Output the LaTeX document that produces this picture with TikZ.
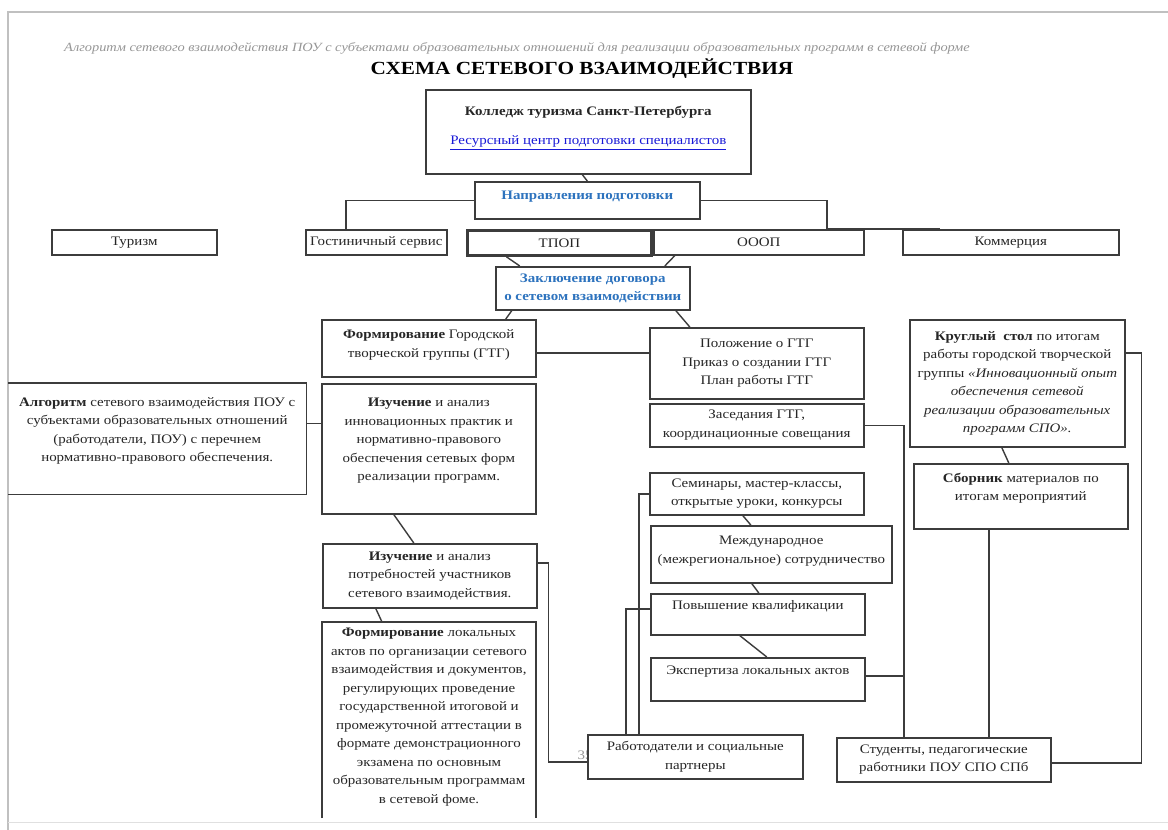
\documentclass[tikz,border=0pt]{standalone}
\usepackage{fontspec}
\setmainfont{Liberation Serif}[FakeStretch=1.15]
\usetikzlibrary{positioning,calc}
\definecolor{frame}   {RGB}{ 60, 60, 60}
\definecolor{headblue}{RGB}{ 45,115,190}
\definecolor{linkblue}{RGB}{ 25, 25,215}
\definecolor{pagegray}{RGB}{150,150,150}
\newcommand\boxfont{\fontsize{13}{18.5}\selectfont}
\newcommand\lnk[1]{\textcolor{linkblue}{\underline{#1}}}

\begin{document}
\begin{tikzpicture}[x=1pt,y=-1pt,
  font=\boxfont,
  text=black!85,
  block/.style={below right,draw=frame,line width=1.6pt,fill=white,inner sep=2pt,align=center},
  bare/.style={below right,inner sep=2pt,align=center},
  thickblock/.style={block,line width=2.8pt},
  headtext/.style={text=headblue,font=\boxfont\bfseries},
  wire/.style={draw=frame,line width=1.4pt},
]

  \useasboundingbox (0,0) rectangle (1168,830);
  \fill[white] (0,0) rectangle (1168,830);

  % Page edge
  \draw[pagegray!60,line width=2.5pt] (8,830) -- (8,12) -- (1168,12);
  \draw[black!12] (8,822) -- (1168,822);

  % Headings
  \node[text=pagegray,font=\fontsize{12.5}{14}\selectfont\itshape] (caption) at (517,48)
        {Алгоритм сетевого взаимодействия ПОУ с субъектами образовательных отношений для реализации образовательных программ в сетевой форме};
  \node[text=black,font=\fontsize{18.5}{20}\selectfont\bfseries] (title) at (582,69) {СХЕМА СЕТЕВОГО ВЗАИМОДЕЙСТВИЯ};

  \node[block,minimum width=325pt,minimum height=84pt] (college) at (425,89)
        {\textbf{Колледж туризма Санкт-Петербурга}\\[11pt]\lnk{Ресурсный центр подготовки специалистов}\\[-6pt]\mbox{}};

  \node[block,headtext,minimum width=225pt,minimum height=37pt] (directions) at (474,181)
        {Направления подготовки\\[-8pt]\mbox{}};

  \node[block,minimum width=165pt,minimum height=25pt] (tourism) at (51,229) {Туризм};
  \node[block,minimum width=141pt,minimum height=25pt] (hotel) at (305,229) {Гостиничный сервис};
  \node[thickblock,minimum width=184pt,minimum height=25pt] (tpop) at (466,229) {ТПОП};
  \node[block,minimum width=210pt,minimum height=25pt] (ooop) at (653,229) {ОООП};
  \node[block,minimum width=216pt,minimum height=25pt] (commerce) at (902,229) {Коммерция};

  \node[block,headtext,minimum width=194pt,minimum height=43pt] (contract) at (495,266)
        {Заключение договора\\о сетевом взаимодействии};

  \node[block,minimum width=214pt,minimum height=57pt] (formgroup) at (321,319)
        {\textbf{Формирование} Городской\\творческой группы (ГТГ)\\[-9pt]\mbox{}};

  \node[block,minimum width=214pt,minimum height=71pt] (regulations) at (649,327)
        {Положение о ГТГ\\Приказ о создании ГТГ\\План работы ГТГ};

  \node[bare,minimum width=298pt,minimum height=111pt] (algorithm) at (8,383)
        {\textbf{Алгоритм} сетевого взаимодействия ПОУ с\\субъектами образовательных отношений\\(работодатели, ПОУ) с перечнем\\нормативно-правового обеспечения.\\\mbox{}};
  \draw[wire,line width=1.6pt] (algorithm.north west) -- (algorithm.north east) -- (algorithm.south east) -- (algorithm.south west);

  \node[block,minimum width=214pt,minimum height=130pt] (study) at (321,383)
        {\textbf{Изучение} и анализ\\инновационных практик и\\нормативно-правового\\обеспечения сетевых форм\\реализации программ.\\\mbox{}};

  \node[block,minimum width=214pt,minimum height=43pt] (meetings) at (649,403)
        {Заседания ГТГ,\\координационные совещания};

  \node[block,minimum width=215pt,minimum height=127pt] (roundtable) at (909,319)
        {\textbf{Круглый\ \ стол} по итогам\\работы городской творческой\\группы \textit{«Инновационный опыт}\\\textit{обеспечения сетевой}\\\textit{реализации образовательных}\\\textit{программ СПО».}};

  \node[block,minimum width=214pt,minimum height=42pt] (seminars) at (649,472)
        {Семинары, мастер-классы,\\открытые уроки, конкурсы};

  \node[block,minimum width=214pt,minimum height=65pt] (collection) at (913,463)
        {\textbf{Сборник} материалов по\\итогам мероприятий\\\mbox{}};

  \node[block,minimum width=241pt,minimum height=57pt] (intl) at (650,525)
        {Международное\\(межрегиональное) сотрудничество\\[-9pt]\mbox{}};

  \node[block,minimum width=214pt,minimum height=64pt] (needs) at (322,543)
        {\textbf{Изучение} и анализ\\потребностей участников\\сетевого взаимодействия.};

  \node[block,minimum width=214pt,minimum height=41pt] (training) at (650,593)
        {Повышение квалификации\\\mbox{}};

  \node[bare,anchor=north,inner ysep=6pt,minimum width=214pt] (localacts) at (429,622)
        {\textbf{Формирование} локальных\\актов по организации сетевого\\взаимодействия и документов,\\регулирующих проведение\\государственной итоговой и\\промежуточной аттестации в\\формате демонстрационного\\экзамена по основным\\образовательным программам\\в сетевой фоме.};
  \draw[wire,line width=1.6pt] (322,818) -- (322,622) -- (536,622) -- (536,818);

  \node[block,minimum width=214pt,minimum height=43pt] (expertise) at (650,657)
        {Экспертиза локальных актов\\\mbox{}};

  \node[text=pagegray] (pagenum) at (585,755) {35};
  \node[block,minimum width=215pt,minimum height=44pt] (employers) at (587,734)
        {Работодатели и социальные\\партнеры};

  \node[block,minimum width=214pt,minimum height=44pt] (students) at (836,737)
        {Студенты, педагогические\\работники ПОУ СПО СПб};

  % Connectors
  \draw[wire] ([xshift=-6pt]college.south) -- (directions.north);
  \draw[wire] (directions.west) -| ([xshift=-30.5pt]hotel.north);
  \draw[wire] (directions.east) -| ([xshift=68pt]ooop.north) -- ([xshift=38pt]commerce.north west);

  \draw[wire] ([xshift=-53pt]tpop.south) -- ([xshift=-73pt]contract.north);
  \draw[wire] ([xshift=-84pt]ooop.south) -- ([xshift=72pt]contract.north);
  \draw[wire] ([xshift=-81pt]contract.south) -- ([xshift=77pt]formgroup.north);
  \draw[wire] ([xshift=83pt]contract.south) -- ([xshift=-67pt]regulations.north);
  \draw[wire] ([yshift=-4.5pt]formgroup.east) -- ([yshift=-4.5pt]formgroup.east -| regulations.west);

  \draw[wire] ([yshift=15.5pt]algorithm.east) -- ([yshift=15.5pt]algorithm.east -| study.west);
  \draw[wire] ([xshift=-35pt]study.south) -- ([xshift=-16pt]needs.north);
  \draw[wire] ([xshift=-54pt]needs.south) -- ([xshift=-47pt]localacts.north);
  \draw[wire] ([yshift=13pt]needs.east) -- ++(11,0) |- ([yshift=-5pt]employers.west);

  \draw[wire] ([xshift=-14pt]seminars.south) -- ([xshift=-20.5pt]intl.north);
  \draw[wire] ([xshift=-19.5pt]intl.south) -- ([xshift=1pt]training.north);
  \draw[wire] ([xshift=-18pt]training.south) -- ([xshift=9pt]expertise.north);
  \draw[wire] (seminars.west) -| ([xshift=-56.5pt]employers.north);
  \draw[wire] ([yshift=5.5pt]training.west) -| ([xshift=-69.5pt]employers.north);

  \draw[wire] (meetings.east) -| ([xshift=-40pt]students.north);
  \draw[wire] ([yshift=3.5pt]expertise.east) -| ([xshift=-40pt]students.north);

  \draw[wire] ([xshift=-15.5pt]roundtable.south) -- ([xshift=-12pt]collection.north);
  \draw[wire] ([xshift=-32pt]collection.south) -- ([xshift=-32pt]collection.south |- students.north);
  \draw[wire] ([yshift=30.5pt]roundtable.east) -- ++(16,0) |- ([yshift=-3pt]students.east);

\end{tikzpicture}
\end{document}
